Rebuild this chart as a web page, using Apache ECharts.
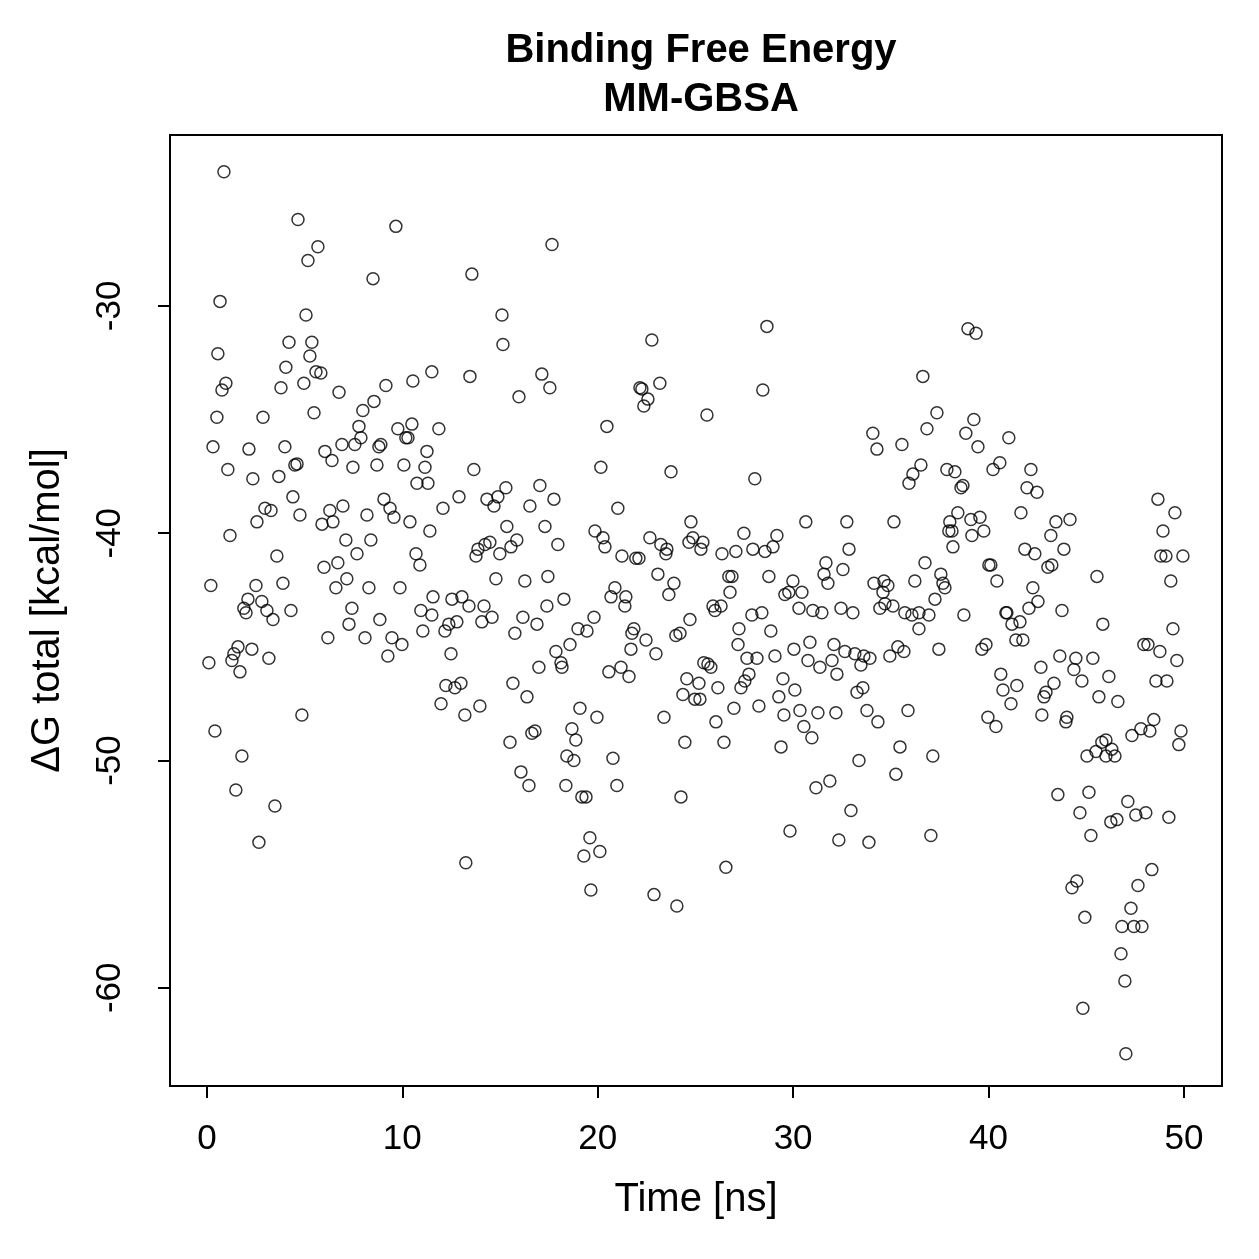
<!DOCTYPE html>
<html>
<head>
<meta charset="utf-8">
<script src="https://cdn.jsdelivr.net/npm/echarts@6/dist/echarts.min.js"></script>
<style>
  html, body { margin: 0; padding: 0; background: #fff; }
  #chart { width: 1259px; height: 1259px; }
</style>
</head>
<body>
<div id="chart"></div>
<script>
// Time [ns] of each frame
const timeNs = [
  0.87,4.66,9.67,5.68,5.17,8.50,0.67,5.07,0.56,4.20,
  5.37,5.27,4.04,5.58,5.83,4.96,3.79,0.97,0.77,6.76,
  9.16,10.54,11.51,8.55,7.98,5.48,0.51,2.87,7.78,7.88,
  9.77,10.49,10.18,10.29,0.31,2.15,3.99,6.91,7.57,8.90,
  8.80,6.04,11.26,
  17.66,13.56,15.10,15.15,22.77,13.46,17.14,17.55,15.97,22.16,22.26,23.18,22.57,22.36,20.47,11.87,
  28.66,28.45,25.59,36.64,37.36,36.85,34.08,35.57,34.29,
  38.95,39.36,39.25,38.84,41.04,39.46,
  6.40,4.50,4.61,1.07,2.35,3.68,7.47,8.70,10.08,11.16,
  10.75,11.31,4.40,2.97,3.28,2.56,1.18,4.76,6.29,6.96,
  5.89,6.45,8.19,9.06,9.37,9.57,10.39,11.41,7.11,8.39,
  7.68,3.58,10.70,10.90,5.99,6.70,7.16,6.60,8.29,9.88,
  0.20,2.51,3.89,2.10,2.81,1.89,2.00,3.07,3.38,4.30,
  7.42,7.27,8.85,10.95,11.51,11.05,11.57,6.19,8.09,9.47,
  9.98,9.26,1.59,1.38,1.28,2.30,3.17,0.10,1.69,4.86,
  0.41,1.79,
  1.48,3.48,2.66,
  13.66,20.16,23.75,12.08,12.90,14.33,14.89,15.30,14.69,17.04,
  17.76,16.53,21.03,15.35,17.30,15.86,15.56,14.48,14.23,13.87,
  13.77,14.99,17.96,19.86,20.27,20.37,21.24,21.95,22.11,22.67,
  23.23,23.54,23.49,24.77,24.87,24.67,14.79,16.27,17.45,23.08,
  23.90,23.64,20.88,20.68,21.44,21.39,12.54,13.05,13.41,14.18,
  14.59,14.07,12.79,12.38,12.18,18.27,17.40,16.17,16.89,15.76,
  19.81,18.99,19.45,18.58,17.86,18.12,18.17,16.99,21.85,21.75,
  22.47,22.98,21.70,24.00,24.21,24.72,20.57,21.19,21.60,12.49,
  12.23,12.69,13.00,11.98,13.20,13.97,15.66,16.38,19.09,19.96,
  18.68,18.88,16.63,16.79,15.51,18.42,18.78,20.78,23.39,24.56,
  24.36,24.97,24.46,
  16.07,16.48,18.37,19.19,19.40,20.98,24.26,19.60,19.29,20.11,13.25,19.65,22.88,24.05,
  28.04,36.54,36.13,35.93,37.87,38.28,38.59,38.69,30.65,32.75,
  35.16,38.43,38.02,37.97,38.13,38.18,27.48,29.17,25.38,25.28,
  26.36,27.07,27.94,28.56,28.97,32.86,31.68,32.55,31.58,31.78,
  26.71,26.87,28.76,29.99,29.58,29.78,30.45,26.77,36.75,37.56,
  37.67,37.77,36.23,34.14,34.65,34.85,34.60,37.26,25.90,26.00,
  26.31,27.89,28.40,30.30,31.01,31.47,32.45,33.06,34.44,34.70,
  35.11,35.72,36.08,36.44,36.95,36.44,27.23,28.86,27.18,30.86,
  32.09,30.04,32.65,33.16,33.62,33.93,33.47,35.36,35.67,34.95,
  37.46,27.64,28.15,29.07,30.76,31.99,31.37,32.24,25.43,25.64,
  25.79,27.74,27.53,27.33,29.48,25.18,26.15,25.23,30.09,29.27,
  33.57,33.27,26.97,28.25,30.35,31.27,32.19,33.78,34.34,35.88,
  29.53,30.55,26.05,26.46,29.38,30.96,33.37,35.47,37.15,
  35.26,31.17,31.88,32.96,29.84,32.34,33.88,37.05,26.56,
  40.23,40.58,42.17,41.97,42.48,39.10,39.56,39.76,39.15,41.66,
  43.45,44.17,43.19,43.86,41.86,42.37,40.02,40.12,40.43,43.04,
  43.24,45.55,48.67,49.54,48.93,48.82,49.08,49.95,49.33,42.27,
  42.53,42.07,43.76,38.74,40.89,40.94,41.20,41.61,41.40,41.76,
  45.85,49.44,39.66,39.87,47.95,48.16,48.77,49.64,42.68,43.65,
  44.47,45.34,44.37,44.78,46.16,40.63,41.45,40.74,41.15,43.35,
  42.94,42.84,45.65,46.62,48.57,49.13,39.97,40.38,42.73,44.01,
  43.96,48.46,47.80,48.26,47.34,49.85,49.74,45.80,46.01,45.50,
  45.04,46.31,46.01,46.47,
  43.55,45.14,47.13,44.68,46.26,46.57,47.54,48.05,49.23,45.24,48.36,44.52,
  44.27,47.65,47.29,44.93,46.83,47.44,47.85,46.78,46.98,44.83,47.03
];

// ΔG total [kcal/mol], same order as timeNs
const deltaG = [
  -24.1,-26.2,-26.5,-27.4,-28.0,-28.8,-29.8,-30.4,-32.1,-31.6,
  -31.6,-32.2,-32.7,-32.9,-32.95,-33.4,-33.6,-33.4,-33.7,-33.8,
  -33.5,-33.3,-32.9,-34.2,-34.6,-34.7,-34.9,-34.9,-35.3,-35.8,
  -35.4,-35.2,-35.8,-35.8,-36.2,-36.3,-36.2,-36.1,-36.1,-36.1,
  -36.2,-36.4,-36.4,
  -27.3,-28.6,-30.4,-31.7,-31.5,-33.1,-33.0,-33.6,-34.0,-33.6,-33.65,-33.4,-34.1,-34.4,-35.3,-35.4,
  -30.9,-33.7,-34.8,-33.1,-34.7,-35.4,-35.6,-36.1,-36.3,
  -31.0,-31.2,-35.0,-35.6,-35.8,-36.2,
  -36.8,-37.0,-36.95,-37.2,-37.6,-37.5,-37.1,-37.0,-37.0,-37.1,
  -37.8,-37.8,-38.4,-38.9,-39.0,-39.5,-40.1,-39.2,-39.0,-38.8,
  -39.6,-39.5,-39.2,-38.5,-38.9,-39.3,-39.5,-39.9,-40.3,-40.3,
  -40.9,-41.0,-40.9,-41.4,-41.5,-41.3,-42.0,-42.4,-42.4,-42.4,
  -42.3,-42.3,-42.2,-42.9,-43.0,-43.3,-43.5,-43.4,-43.8,-43.4,
  -43.3,-44.0,-43.8,-43.4,-43.6,-44.3,-42.8,-44.6,-44.6,-44.6,
  -44.9,-45.4,-45.0,-45.3,-45.6,-45.1,-45.5,-45.7,-46.1,-48.0,
  -48.7,-49.8,
  -51.3,-52.0,-53.6,
  -37.2,-37.1,-37.3,-38.9,-38.4,-38.5,-38.4,-38.0,-38.8,-37.9,
  -38.5,-38.8,-38.9,-39.7,-39.7,-40.3,-40.6,-40.4,-40.5,-40.7,
  -41.0,-40.9,-40.5,-39.9,-40.2,-40.6,-41.0,-41.1,-41.1,-40.2,
  -40.5,-40.7,-40.9,-39.5,-40.2,-40.4,-42.0,-42.1,-41.9,-41.8,
  -42.2,-42.7,-42.4,-42.8,-42.8,-43.2,-42.9,-42.8,-43.2,-43.2,
  -43.7,-43.9,-43.9,-44.0,-44.3,-42.9,-43.2,-43.7,-44.0,-44.4,
  -43.7,-44.2,-44.3,-44.9,-45.2,-45.7,-45.9,-45.9,-44.2,-44.4,
  -44.7,-45.3,-45.1,-44.5,-44.4,-43.8,-46.1,-45.9,-46.3,-45.3,
  -46.7,-46.8,-46.6,-47.5,-48.0,-47.6,-46.6,-47.2,-47.7,-48.1,
  -48.6,-49.1,-48.8,-48.7,-49.2,-49.8,-50.0,-49.9,-48.1,-46.4,
  -47.1,-47.3,-49.2,
  -50.5,-51.1,-51.1,-51.6,-51.6,-51.1,-51.6,-53.4,-54.2,-54.0,-54.5,-55.7,-55.9,-56.4,
  -37.6,-37.0,-37.4,-37.8,-37.2,-37.3,-38.0,-37.9,-39.5,-39.5,
  -39.5,-39.1,-39.5,-39.9,-39.9,-40.6,-40.0,-40.1,-40.4,-40.7,
  -40.9,-40.8,-40.7,-40.8,-40.6,-40.7,-41.3,-41.6,-41.8,-42.2,
  -41.9,-41.9,-41.9,-42.1,-42.7,-42.6,-42.6,-42.6,-41.3,-41.8,
  -42.2,-42.4,-42.1,-42.2,-42.1,-42.3,-42.6,-42.9,-43.2,-43.4,
  -43.2,-43.6,-43.5,-43.3,-43.4,-43.5,-43.3,-43.5,-43.3,-43.1,
  -43.2,-43.5,-43.6,-43.5,-43.6,-44.2,-44.2,-44.3,-44.9,-44.8,
  -44.9,-45.1,-45.2,-45.3,-45.4,-45.5,-45.8,-45.0,-45.2,-45.4,
  -45.1,-45.5,-45.5,-45.4,-45.6,-45.6,-45.9,-46.2,-45.7,-45.75,
  -45.9,-46.2,-46.5,-46.8,-46.4,-46.6,-46.8,-47.3,-46.9,-47.2,
  -46.8,-47.0,-47.7,-47.6,-47.8,-47.9,-47.9,-47.8,-48.3,-47.8,
  -48.0,-48.5,-48.3,-49.2,-49.4,-49.0,-50.0,-49.4,-49.8,
  -50.6,-51.2,-50.9,-52.2,-53.1,-53.5,-53.6,-53.3,-54.7,
  -37.2,-36.9,-37.2,-38.0,-38.2,-39.4,-39.3,-39.9,-40.1,-39.1,
  -39.5,-39.4,-40.1,-40.7,-40.7,-40.9,-41.4,-41.4,-42.1,-41.5,
  -41.4,-41.9,-38.5,-39.1,-39.9,-41.0,-41.0,-41.0,-42.1,-42.4,
  -43.0,-43.3,-43.4,-43.6,-43.5,-43.5,-44.0,-43.9,-44.7,-44.7,
  -44.0,-44.2,-45.1,-44.9,-44.9,-44.9,-45.2,-45.6,-45.9,-45.4,
  -45.5,-45.5,-46.0,-46.5,-46.3,-46.2,-46.7,-46.9,-47.5,-46.6,
  -47.0,-47.2,-47.2,-47.4,-46.5,-46.5,-48.1,-48.5,-48.0,-48.1,
  -48.3,-48.2,-48.6,-48.7,-48.9,-48.7,-49.3,-49.2,-49.1,-49.6,
  -49.8,-49.5,-49.8,-49.8,
  -51.5,-51.4,-51.8,-52.3,-52.7,-52.6,-52.4,-52.3,-52.5,-53.3,-54.8,-55.3,
  -55.6,-55.5,-56.5,-56.9,-57.3,-57.3,-57.3,-58.5,-59.7,-60.9,-62.9
];

const xTicks = [0, 10, 20, 30, 40, 50];
const yTicks = [-60, -50, -40, -30];

const points = timeNs.map((t, i) => [t, deltaG[i]]);
const font = "'Liberation Sans', Arial, Helvetica, sans-serif";

const chart = echarts.init(document.getElementById('chart'), null, { renderer: 'canvas' });

chart.setOption({
  animation: false,
  backgroundColor: '#fff',
  title: {
    text: 'Binding Free Energy\nMM-GBSA',
    left: 696,
    top: 21,
    textAlign: 'center',
    textStyle: {
      fontFamily: font,
      fontSize: 40,
      fontWeight: 'bold',
      color: '#000',
      lineHeight: 49,
    },
  },
  grid: {
    left: 170,
    top: 135,
    width: 1052,
    height: 951,
    show: true,
    borderColor: '#000',
    borderWidth: 2,
    backgroundColor: 'transparent',
  },
  xAxis: {
    type: 'value',
    min: -1.89,
    max: 51.95,
    name: 'Time [ns]',
    nameLocation: 'middle',
    nameGap: 94,
    nameTextStyle: { fontFamily: font, fontSize: 40, color: '#000' },
    splitLine: { show: false },
    axisLine: { show: false, onZero: false },
    axisTick: {
      show: true,
      inside: false,
      length: 12,
      customValues: xTicks,
      lineStyle: { color: '#000', width: 2 },
    },
    axisLabel: {
      customValues: xTicks,
      margin: 36,
      fontFamily: font,
      fontSize: 35,
      color: '#000',
    },
  },
  yAxis: {
    type: 'value',
    min: -64.32,
    max: -22.48,
    name: 'ΔG total [kcal/mol]',
    nameLocation: 'middle',
    nameRotate: 90,
    nameGap: 102,
    nameTextStyle: { fontFamily: font, fontSize: 40, color: '#000' },
    splitLine: { show: false },
    axisLine: { show: false, onZero: false },
    axisTick: {
      show: true,
      inside: false,
      length: 12,
      customValues: yTicks,
      lineStyle: { color: '#000', width: 2 },
    },
    axisLabel: {
      customValues: yTicks,
      rotate: 90,
      margin: 42,
      fontFamily: font,
      fontSize: 35,
      color: '#000',
    },
  },
  series: [
    {
      type: 'scatter',
      data: points,
      symbol: 'circle',
      symbolSize: 12,
      itemStyle: {
        color: 'rgba(0,0,0,0)',
        borderColor: '#000',
        borderWidth: 1.5,
      },
      silent: true,
    },
  ],
});
</script>
</body>
</html>
